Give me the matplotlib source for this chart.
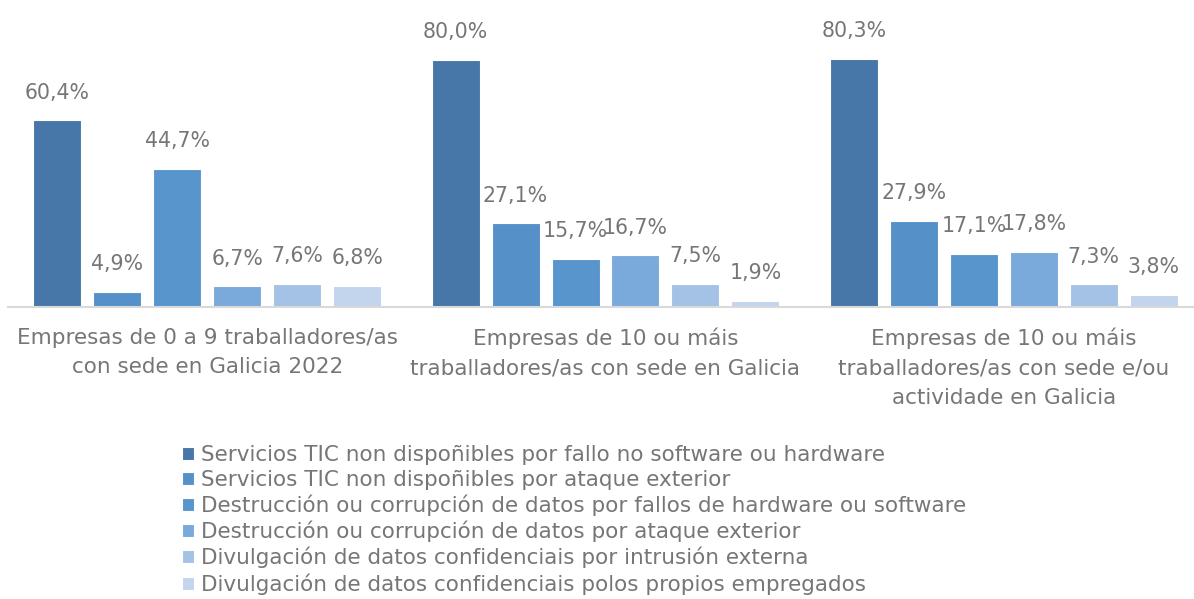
import numpy as np
import matplotlib
matplotlib.use('Agg')
import matplotlib.pyplot as plt
from matplotlib.patches import Patch

plt.rcParams['font.family'] = ['DejaVu Sans']

groups = ['Empresas de 0 a 9 traballadores/as\ncon sede en Galicia 2022',
          'Empresas de 10 ou máis\ntraballadores/as con sede en Galicia',
          'Empresas de 10 ou máis\ntraballadores/as con sede e/ou\nactividade en Galicia']
series = ['Servicios TIC non dispoñibles por fallo no software ou hardware',
          'Servicios TIC non dispoñibles por ataque exterior',
          'Destrucción ou corrupción de datos por fallos de hardware ou software',
          'Destrucción ou corrupción de datos por ataque exterior',
          'Divulgación de datos confidenciais por intrusión externa',
          'Divulgación de datos confidenciais polos propios empregados']
values = [[60.4, 80.0, 80.3],
          [4.9, 27.1, 27.9],
          [44.7, 15.7, 17.1],
          [6.7, 16.7, 17.8],
          [7.6, 7.5, 7.3],
          [6.8, 1.9, 3.8]]
colors = ['#4677A8', '#5690C8', '#5895CD', '#7AAADB', '#A4C2E6', '#C3D5ED']
TXT = '#767676'
FS = 15.5

W, H = 1194, 599
fig = plt.figure(figsize=(W / 100, H / 100), dpi=100)
# axes placed in pixel terms: baseline at y=307, x from 8 to 1203
ax = fig.add_axes([8 / W, (H - 307) / H, 1195 / W, 278 / H])

x = np.arange(len(groups))
step = 0.1506
for i, (s, v) in enumerate(zip(series, values)):
    pos = x + (i - 2.5) * step
    bars = ax.bar(pos, v, width=step * 0.8, color=colors[i], edgecolor='white', linewidth=0.8, label=s)
    for b, val in zip(bars, v):
        ax.annotate(f'{val:.1f}%'.replace('.', ','),
                    (b.get_x() + b.get_width() / 2, b.get_height()),
                    xytext=(0, 20), textcoords='offset points',
                    ha='center', va='center', fontsize=14.8, color=TXT)

ax.set_xlim(-0.5, 2.5)
ax.set_ylim(0, 90)
ax.set_yticks([])
for sp in ['top', 'right', 'left']:
    ax.spines[sp].set_visible(False)
ax.spines['bottom'].set_color('#D9D9D9')
ax.spines['bottom'].set_linewidth(1.5)
ax.set_xticks(x)
ax.set_xticklabels(groups, fontsize=FS, color=TXT, linespacing=1.58)
ax.tick_params(axis='x', length=0, pad=15)

handles = [Patch(facecolor=c, edgecolor='white', linewidth=0.8) for c in colors]
fig.legend(handles, series, loc='upper left', bbox_to_anchor=(182 / W, 1 - 445 / H),
           frameon=False, fontsize=FS, labelcolor=TXT, handlelength=0.55, handleheight=0.55,
           handletextpad=0.35, labelspacing=0.22, borderaxespad=0, borderpad=0)

fig.savefig('out.png', dpi=100)
